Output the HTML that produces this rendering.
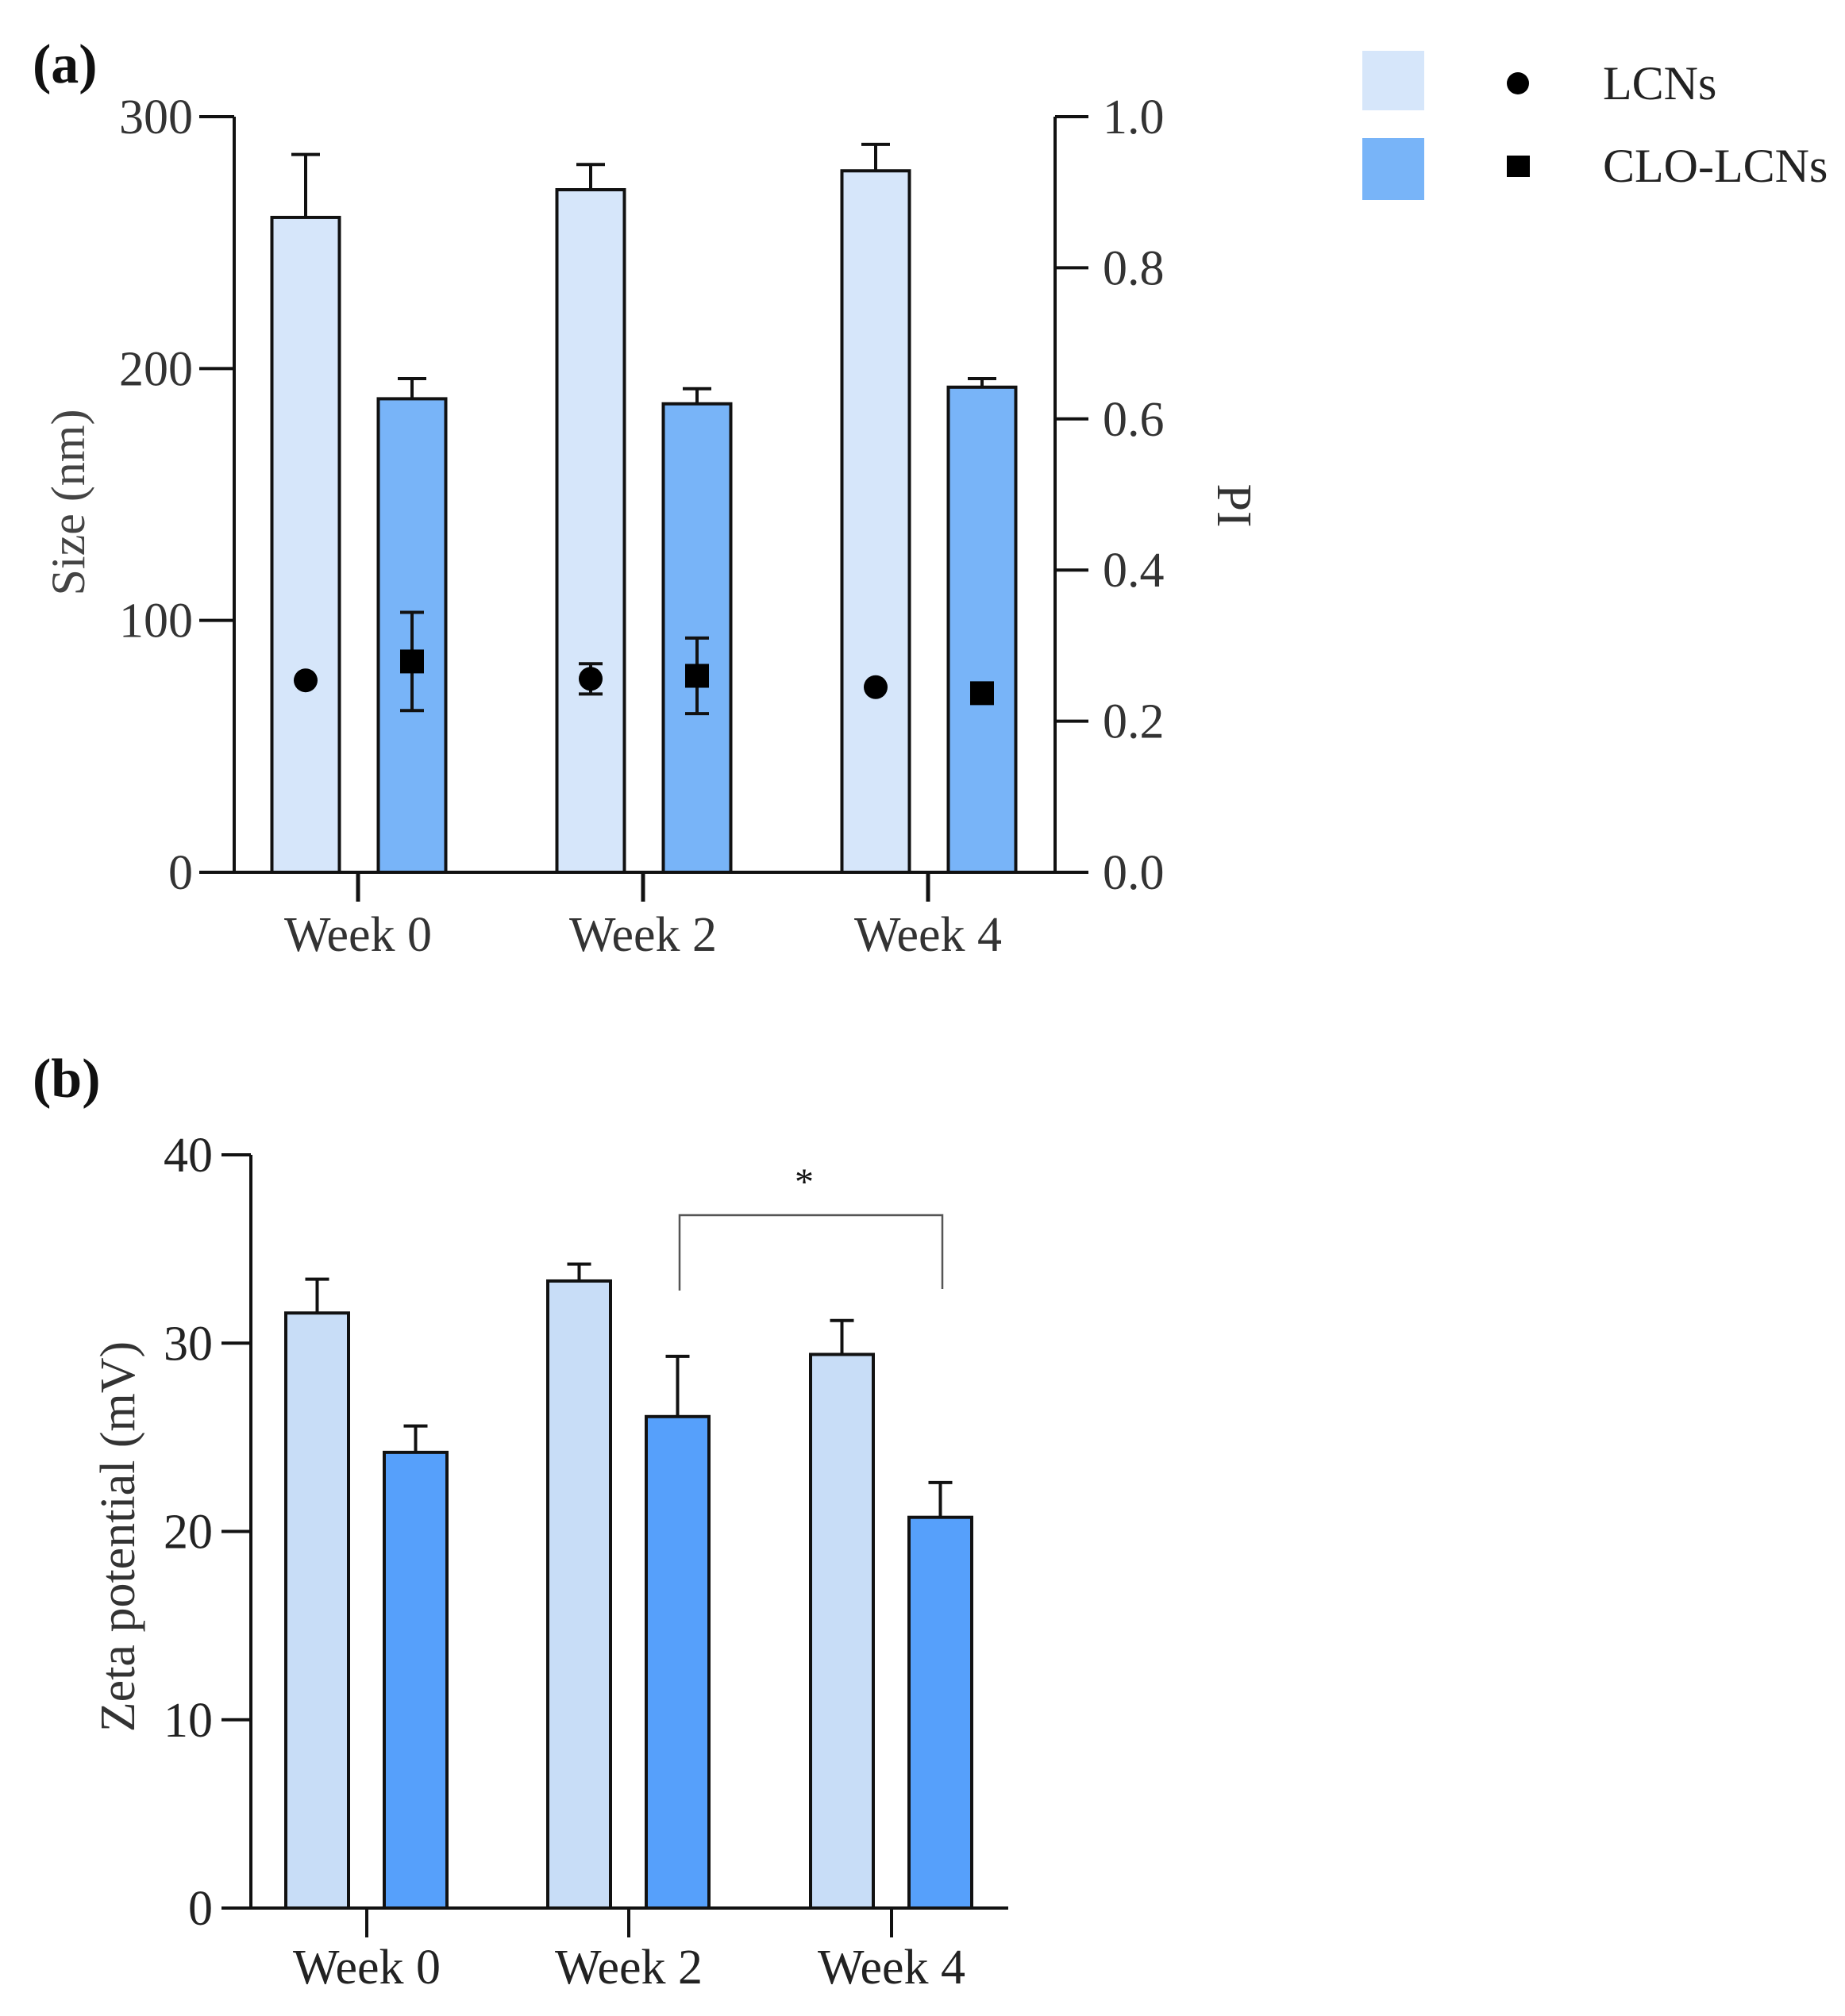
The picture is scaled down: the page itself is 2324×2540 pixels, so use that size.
<!DOCTYPE html>
<html><head><meta charset="utf-8"><style>
html,body{margin:0;padding:0;background:#fff}
svg{display:block}
text{font-family:"Liberation Serif",serif}
</style></head><body>
<svg id="fig" width="2324" height="2540" viewBox="0 0 2324 2540" xmlns="http://www.w3.org/2000/svg">
<g id="pa"></g>
<g id="pb"></g>
<g id="legend">
  <rect x="1716" y="64" width="78" height="75" fill="#d6e6fa"/>
  <rect x="1716" y="174" width="78" height="78" fill="#78b4f8"/>
  <ellipse cx="1912" cy="105" rx="14" ry="14" fill="#000"/>
  <rect x="1898" y="196" width="29" height="27" fill="#000"/>
  <text x="2019" y="125" font-size="60" fill="#222">LCNs</text>
  <text x="2019" y="229" font-size="60" fill="#222">CLO-LCNs</text>
</g>
</svg>
<script>
const NS='http://www.w3.org/2000/svg';
function mk(parent,tag,attrs,txt){const e=document.createElementNS(NS,tag);for(const k in attrs)e.setAttribute(k,attrs[k]);if(txt!==undefined)e.textContent=txt;parent.appendChild(e);return e;}

// ---- Panel (a) data ----
const categoriesA=['Week 0','Week 2','Week 4'];
const sizeLCNs=[260,271,278.5];
const sizeLCNsErr=[25,10,10.5];
const sizeCLO=[188,186,192.6];
const sizeCLOErr=[8,6,3.4];
const piLCNs=[0.254,0.256,0.245];
const piLCNsErr=[0,0.02,0];
const piCLO=[0.279,0.26,0.237];
const piCLOErr=[0.065,0.05,0];
const sizeTicks=[0,100,200,300];
const piTicks=['0.0','0.2','0.4','0.6','0.8','1.0'];

// ---- Panel (b) data ----
const categoriesB=['Week 0','Week 2','Week 4'];
const zetaLCNs=[31.6,33.3,29.4];
const zetaLCNsErr=[1.8,0.9,1.8];
const zetaCLO=[24.2,26.1,20.75];
const zetaCLOErr=[1.4,3.2,1.85];
const zetaTicks=[0,10,20,30,40];

// ---------- Panel A ----------
(function(){
const g=document.getElementById('pa');
const x0=295,x1=1329,y0=1099,yTop=147;
const ySize=v=>y0-(v/300)*(y0-yTop);
const yPI=v=>y0-(v/1.0)*(y0-yTop);
const centers=[451,810,1169];
const bw=85, off=[-108.5,25.5];
let t=mk(g,'text',{x:41,y:104,'font-size':70,'font-weight':'bold',fill:'#111'},'(a)');


// bars
categoriesA.forEach((c,i)=>{
  [[sizeLCNs,sizeLCNsErr,'#d6e6fa','lcns'],[sizeCLO,sizeCLOErr,'#78b4f8','clo-lcns']].forEach((s,j)=>{
    const bx=centers[i]+off[j];
    const v=s[0][i],e=s[1][i];
    const top=ySize(v),et=ySize(v+e),cx=bx+bw/2;
    const eb=mk(g,'path',{d:`M${cx},${top}V${et}M${cx-18},${et}H${cx+18}`,stroke:'#111','stroke-width':4,fill:'none'});
    
    
    const r=mk(g,'rect',{x:bx,y:top,width:bw,height:y0-top,fill:s[2],stroke:'#111','stroke-width':4});
    
    
  });
});
// PI points
categoriesA.forEach((c,i)=>{
  [[piLCNs,piLCNsErr,'circle','lcns'],[piCLO,piCLOErr,'square','clo-lcns']].forEach((s,j)=>{
    const cx=centers[i]+off[j]+bw/2, cy=yPI(s[0][i]), e=s[1][i];
    if(e>0){
      const a=yPI(s[0][i]+e),b=yPI(s[0][i]-e);
      const eb=mk(g,'path',{d:`M${cx},${a}V${b}M${cx-15},${a}H${cx+15}M${cx-15},${b}H${cx+15}`,stroke:'#111','stroke-width':4,fill:'none'});
      
      
    }
    let m;
    if(s[2]==='circle') m=mk(g,'circle',{cx:cx,cy:cy,r:15,fill:'#000'});
    else m=mk(g,'rect',{x:cx-15,y:cy-15,width:30,height:30,fill:'#000'});
    
    
  });
});
// axes
let a=mk(g,'path',{d:`M${x0},${yTop}V${y0}M251,${y0}H${x1}M${x1},${yTop}V${y0}`,stroke:'#111','stroke-width':4,fill:'none'});


sizeTicks.forEach(v=>{
  const y=ySize(v);
  const l=mk(g,'line',{x1:251,x2:x0,y1:y,y2:y,stroke:'#111','stroke-width':4});
  
  
  const tx=mk(g,'text',{x:243,y:y+21,'font-size':62,'text-anchor':'end',fill:'#333'},String(v));
  
  
});
piTicks.forEach(v=>{
  const y=yPI(parseFloat(v));
  const l=mk(g,'line',{x1:x1,x2:x1+42,y1:y,y2:y,stroke:'#111','stroke-width':4});
  
  
  const tx=mk(g,'text',{x:1389,y:y+21,'font-size':62,fill:'#333'},v);
  
  
});
categoriesA.forEach((c,i)=>{
  const l=mk(g,'line',{x1:centers[i],x2:centers[i],y1:y0,y2:1136,stroke:'#111','stroke-width':5});
  
  
  const tx=mk(g,'text',{x:centers[i],y:1198,'font-size':62,'text-anchor':'middle',fill:'#333'},c);
  
  
});
t=mk(g,'text',{x:0,y:0,'font-size':60,'text-anchor':'middle',fill:'#444',transform:'translate(106,633) rotate(-90)'},'Size (nm)');


t=mk(g,'text',{x:0,y:0,'font-size':62,'text-anchor':'middle',fill:'#333',transform:'translate(1534,637) rotate(90)'},'PI');


})();

// ---------- Panel B ----------
(function(){
const g=document.getElementById('pb');
const x0=316,x1=1270,y0=2404,yTop=1455;
const yZ=v=>y0-(v/40)*(y0-yTop);
const centers=[462,792,1123];
const bw=79, off=[-102,22];
let t=mk(g,'text',{x:41,y:1382,'font-size':70,'font-weight':'bold',fill:'#111'},'(b)');


categoriesB.forEach((c,i)=>{
  [[zetaLCNs,zetaLCNsErr,'#c8ddf7','lcns'],[zetaCLO,zetaCLOErr,'#56a0fb','clo-lcns']].forEach((s,j)=>{
    const bx=centers[i]+off[j];
    const v=s[0][i],e=s[1][i];
    const top=yZ(v),et=yZ(v+e),cx=bx+bw/2;
    const eb=mk(g,'path',{d:`M${cx},${top}V${et}M${cx-15},${et}H${cx+15}`,stroke:'#111','stroke-width':4,fill:'none'});
    
    
    const r=mk(g,'rect',{x:bx,y:top,width:bw,height:y0-top,fill:s[2],stroke:'#111','stroke-width':4});
    
    
  });
});
let a=mk(g,'path',{d:`M${x0},${yTop}V${y0}M279,${y0}H${x1}`,stroke:'#111','stroke-width':4,fill:'none'});


zetaTicks.forEach(v=>{
  const y=yZ(v);
  const l=mk(g,'line',{x1:279,x2:x0,y1:y,y2:y,stroke:'#111','stroke-width':4});
  
  
  const tx=mk(g,'text',{x:268,y:y+21,'font-size':62,'text-anchor':'end',fill:'#222'},String(v));
  
  
});
categoriesB.forEach((c,i)=>{
  const l=mk(g,'line',{x1:centers[i],x2:centers[i],y1:y0,y2:2441,stroke:'#111','stroke-width':4});
  
  
  const tx=mk(g,'text',{x:centers[i],y:2499,'font-size':62,'text-anchor':'middle',fill:'#222'},c);
  
  
});
t=mk(g,'text',{x:0,y:0,'font-size':62,'text-anchor':'middle',fill:'#333',transform:'translate(169,1936) rotate(-90)'},'Zeta potential (mV)');


const br=mk(g,'path',{d:'M856,1626V1531H1187V1624',stroke:'#555','stroke-width':2.5,fill:'none'});


t=mk(g,'text',{x:1013,y:1505,'font-size':48,'text-anchor':'middle',fill:'#111'},'*');


})();
</script>
</body></html>
